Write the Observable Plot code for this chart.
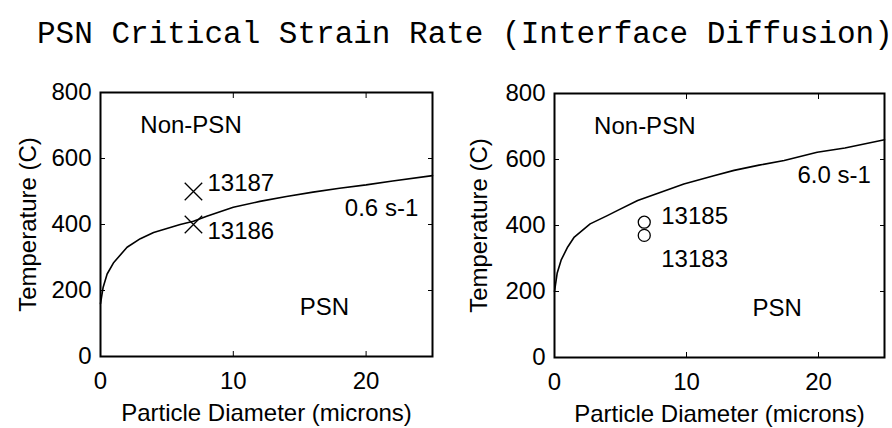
<!DOCTYPE html>
<html>
<head>
<meta charset="utf-8">
<script src="https://cdn.jsdelivr.net/npm/d3@7"></script>
<script src="https://cdn.jsdelivr.net/npm/@observablehq/plot@0.6"></script>
<style>
  body { margin: 0; background: #fff; }
  #title { height: 80px; box-sizing: border-box; padding: 19px 0 0 37px; font-family: "Liberation Mono", "Courier New", monospace; font-size: 31px; line-height: 31px; white-space: nowrap; color: #000; }
  #row { display: flex; width: 892px; }
  #row > div { width: 446px; flex: none; }
</style>
</head>
<body>
<div id="title">PSN Critical Strain Rate (Interface Diffusion)</div>
<div id="row"><div id="left"></div><div id="right"></div></div>
<script>
// Critical temperature vs particle diameter, strain rate 0.6 s-1
const lowRateDiameter = [0, 0.2, 0.5, 1, 2, 3, 4, 5, 6, 7, 8, 10, 12, 14, 16, 18, 20, 22, 25];
const lowRateTemp     = [160, 210, 250, 285, 331, 357, 376, 388, 400, 410, 425, 452, 470, 485, 498, 510, 520, 532, 548];

// Critical temperature vs particle diameter, strain rate 6.0 s-1
const highRateDiameter = [0, 0.2, 0.5, 1, 1.5, 2.7, 4, 4.75, 6.3, 8, 9.8, 12, 13.6, 15.5, 17.4, 19.9, 22, 25];
const highRateTemp     = [200, 255, 295, 335, 365, 405, 430, 445, 476, 500, 526, 550, 567, 583, 597, 622, 635, 660];

// Tested samples
const lowRateSamples  = ["13187", "13186"];
const lowRateSampleD  = [7, 7];
const lowRateSampleT  = [500, 400];
const highRateSamples = ["13185", "13183"];
const highRateSampleD = [6.8, 6.8];
const highRateSampleT = [410, 370];

const rateLabels = ["0.6 s-1", "6.0 s-1"];
const xTicks = [0, 10, 20];
const yTicks = [0, 200, 400, 600, 800];

function panel(cfg) {
  const curve = cfg.d.map((d, i) => ({d, t: cfg.t[i]}));
  const samples = cfg.ids.map((id, i) => ({id, d: cfg.sd[i], t: cfg.st[i]}));
  const H = 348, plotH = 264;
  const marks = [
    // inward ticks on all four sides
    Plot.axisY({ticks: yTicks, tickSize: 5, dx: 5, tickFormat: () => "", label: null, strokeWidth: 1}),
    Plot.axisY({anchor: "right", ticks: yTicks, tickSize: 5, dx: -5, tickFormat: () => "", label: null, strokeWidth: 1}),
    Plot.axisX({ticks: xTicks, tickSize: 5, dy: -5, tickFormat: () => "", label: null, strokeWidth: 1}),
    Plot.axisX({anchor: "top", ticks: xTicks, tickSize: 5, dy: 5, tickFormat: () => "", label: null, strokeWidth: 1}),
    // tick labels
    Plot.axisY({ticks: yTicks, tickSize: 0, tickPadding: 9, label: null}),
    Plot.axisX({ticks: xTicks, tickSize: 0, tickPadding: 15, label: null}),
    // axis titles
    Plot.text(["Particle Diameter (microns)"], {frameAnchor: "bottom", dy: 57, lineAnchor: "middle", textAnchor: "middle", fontSize: 24}),
    Plot.text(["Temperature (C)"], {frameAnchor: "left", dx: cfg.ylabDx, rotate: -90, lineAnchor: "middle", textAnchor: "middle", fontSize: 24}),
    // critical curve
    Plot.line(curve, {x: "d", y: "t", stroke: "#000", strokeWidth: 1.6}),
    // samples
    Plot.dot(samples, {x: "d", y: "t", symbol: cfg.symbol, r: cfg.r, stroke: "#000", strokeWidth: 1.3, fill: "none"}),
    // region and rate labels
    Plot.text(["Non-PSN"], {x: 3, y: 700, textAnchor: "start", lineAnchor: "middle", fontSize: 24}),
    Plot.text(["PSN"], {x: 15, y: 150, textAnchor: "start", lineAnchor: "middle", fontSize: 24}),
    Plot.text([cfg.rate], {x: 18.4, y: cfg.rateT, textAnchor: "start", lineAnchor: "middle", fontSize: 24})
  ];
  samples.forEach((s, i) => {
    marks.push(Plot.text([s], {x: "d", y: "t", text: "id", textAnchor: "start", lineAnchor: "middle",
      dx: cfg.labelDx, dy: cfg.labelDy[i], fontSize: 24}));
  });
  // axes box
  marks.push(Plot.frame({stroke: "#000", strokeWidth: 2}));
  const svg = Plot.plot({
    width: cfg.width, height: H,
    marginLeft: cfg.ml, marginRight: cfg.mr, marginTop: cfg.mt, marginBottom: H - cfg.mt - plotH,
    style: {fontFamily: "Arial", fontSize: "24px", color: "#000", background: "#fff", overflow: "visible"},
    x: {domain: [0, 25]},
    y: {domain: [0, 800]},
    marks
  });
  svg.style.display = "block";
  svg.style.maxWidth = "none";
  return svg;
}

document.getElementById("left").append(panel({
  d: lowRateDiameter, t: lowRateTemp,
  ids: lowRateSamples, sd: lowRateSampleD, st: lowRateSampleT,
  symbol: "times", r: 8, labelDx: 14, labelDy: [-8, 7],
  rate: rateLabels[0], rateT: 448,
  width: 446, ml: 100, mr: 14, mt: 12, ylabDx: -72
}));

document.getElementById("right").append(panel({
  d: highRateDiameter, t: highRateTemp,
  ids: highRateSamples, sd: highRateSampleD, st: highRateSampleT,
  symbol: "circle", r: 6, labelDx: 17, labelDy: [-6, 24],
  rate: rateLabels[1], rateT: 551,
  width: 446, ml: 108, mr: 8, mt: 13, ylabDx: -75
}));
</script>
</body>
</html>
